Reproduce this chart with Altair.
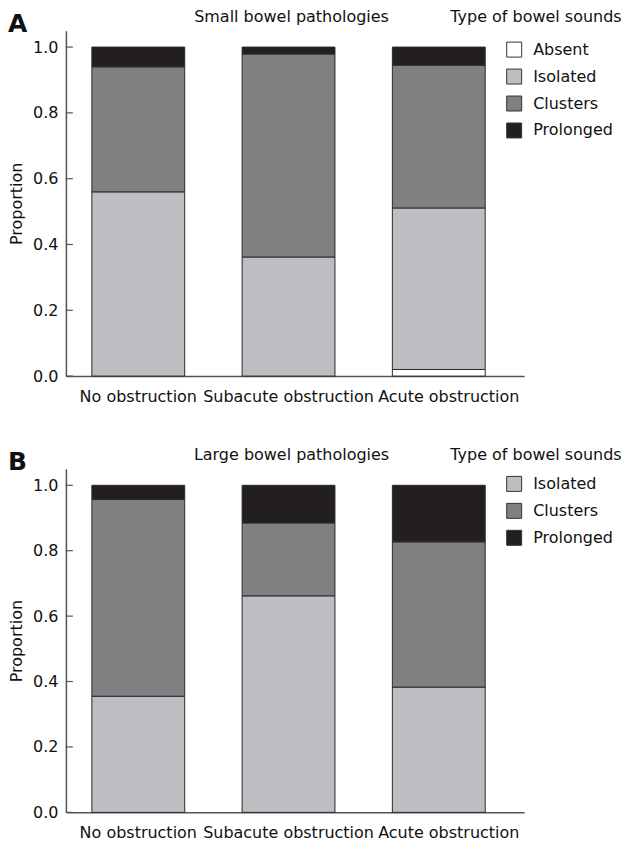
import altair as alt
import pandas as pd

FONT = "DejaVu Sans"

categories = ["No obstruction", "Subacute obstruction", "Acute obstruction"]

# Panel A: small bowel pathologies
types_a = ["Absent", "Isolated", "Clusters", "Prolonged"]
absent_a = [0.0, 0.0, 0.02]
isolated_a = [0.56, 0.362, 0.491]
clusters_a = [0.38, 0.617, 0.434]
prolonged_a = [0.06, 0.021, 0.055]

# Panel B: large bowel pathologies
types_b = ["Isolated", "Clusters", "Prolonged"]
isolated_b = [0.355, 0.662, 0.383]
clusters_b = [0.602, 0.223, 0.444]
prolonged_b = [0.043, 0.115, 0.173]

tick_values = [0.0, 0.2, 0.4, 0.6, 0.8, 1.0]

color_map = {"Absent": "#ffffff", "Isolated": "#bdbec1", "Clusters": "#7f8081", "Prolonged": "#231f20"}


def long_table(types, series):
    rows = []
    for ti, (t, vals) in enumerate(zip(types, series)):
        for c, v in zip(categories, vals):
            if v > 0:
                rows.append({"Category": c, "Type": t, "value": v, "order": ti})
    return pd.DataFrame(rows)


def panel(df, types, letter, title, legend_y, h):
    x = alt.X("Category:N", sort=categories,
              scale=alt.Scale(paddingInner=0.382, paddingOuter=0.216, align=0.4),
              axis=alt.Axis(title=None, ticks=False, labelAngle=0, labelPadding=12,
                            labelOffset={"condition": {"test": "datum.value === 'Acute obstruction'",
                                                       "value": 10}, "value": 0},
                            labelFontSize=16, labelFont=FONT, labelColor="#111",
                            domainColor="#555", domainWidth=1.5))
    y = alt.Y("value:Q", stack="zero",
              scale=alt.Scale(domain=[0, 1.05], nice=False),
              axis=alt.Axis(title="Proportion", values=tick_values, format=".1f",
                            ticks=False, grid=False, labelPadding=8, labelFontSize=16,
                            labelFont=FONT, labelColor="#111", titleFont=FONT,
                            titleFontSize=16, titleFontWeight="normal", titleColor="#111",
                            titlePadding=8, domainColor="#555", domainWidth=1.5))
    bars = alt.Chart(df).mark_bar(stroke="#2a2a2a", strokeWidth=1).encode(
        x=x, y=y,
        color=alt.Color("Type:N",
                        scale=alt.Scale(domain=types, range=[color_map[t] for t in types]),
                        legend=alt.Legend(orient="none", legendX=441, legendY=legend_y,
                                          title=None, symbolType="square", symbolSize=225,
                                          symbolStrokeColor="#333", symbolStrokeWidth=1,
                                          symbolOpacity=1,
                                          labelFontSize=16, labelFont=FONT, labelColor="#111",
                                          labelOffset=11, rowPadding=7, padding=0)),
        order=alt.Order("order:Q"),
    )
    ticks = alt.Chart(pd.DataFrame({"t": tick_values})).mark_rule(color="#555", strokeWidth=1.2).encode(
        y=alt.Y("t:Q"), x=alt.value(0), x2=alt.value(7)
    )
    letter_t = alt.Chart(pd.DataFrame({"s": [letter]})).mark_text(
        font=FONT, fontSize=25, fontWeight="bold", align="left", baseline="alphabetic", color="#111"
    ).encode(text="s:N", x=alt.value(-58), y=alt.value(1))
    title_t = alt.Chart(pd.DataFrame({"s": [title]})).mark_text(
        font=FONT, fontSize=16, align="center", baseline="alphabetic", color="#111"
    ).encode(text="s:N", x=alt.value(226), y=alt.value(-9))
    leg_t = alt.Chart(pd.DataFrame({"s": ["Type of bowel sounds"]})).mark_text(
        font=FONT, fontSize=16, align="left", baseline="alphabetic", color="#111"
    ).encode(text="s:N", x=alt.value(385), y=alt.value(-9))
    return alt.layer(bars, ticks, letter_t, title_t, leg_t).properties(width=459, height=h)


df_a = long_table(types_a, [absent_a, isolated_a, clusters_a, prolonged_a])
df_b = long_table(types_b, [isolated_b, clusters_b, prolonged_b])

chart = alt.vconcat(
    panel(df_a, types_a, "A", "Small bowel pathologies", 11, 346),
    panel(df_b, types_b, "B", "Large bowel pathologies", 7, 344),
    spacing=43,
).resolve_scale(color="independent").properties(
    padding={"top": 0, "left": 0, "right": 0, "bottom": 0}
).configure_view(stroke=None)

chart.save("out.html", embed_options={"renderer": "svg", "actions": False})
